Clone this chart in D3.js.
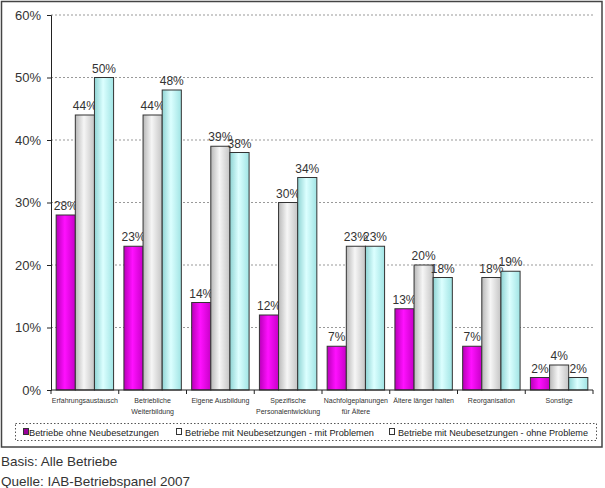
<!DOCTYPE html>
<html><head><meta charset="utf-8">
<script src="https://cdn.jsdelivr.net/npm/d3@7"></script>
<style>body{margin:0;background:#fff}svg{display:block;font-family:"Liberation Sans",Arial,sans-serif}</style>
</head><body><svg id="c" width="605" height="488"></svg>
<script>
const categories = [["Erfahrungsaustausch"],["Betriebliche","Weiterbildung"],["Eigene Ausbildung"],["Spezifische","Personalentwicklung"],["Nachfolgeplanungen","für Ältere"],["Ältere länger halten"],["Reorganisation"],["Sonstige"]];
const seriesNames = ["Betriebe ohne Neubesetzungen","Betriebe mit Neubesetzungen - mit Problemen","Betriebe mit Neubesetzungen - ohne Probleme"];
const ohne = [28,23,14,12,7,13,7,2];
const mitProblemen = [44,44,39,30,23,20,18,4];
const ohneProbleme = [50,48,38,34,23,18,19,2];
const yTicks = [0,10,20,30,40,50,60];

const series = [ohne, mitProblemen, ohneProbleme];
const svg = d3.select("#c");
const defs = svg.append("defs");
const grads = [["#b800b8","#ff10ff","#c800c8"],["#b8b8b8","#f6f6f6","#c4c4c4"],["#8fd4d4","#dcffff","#a0e4e4"]];
grads.forEach((g,i)=>{
  const lg = defs.append("linearGradient").attr("id","g"+i).attr("x1","0").attr("x2","1").attr("y1","0").attr("y2","0");
  lg.append("stop").attr("offset","0%").attr("stop-color",g[0]);
  lg.append("stop").attr("offset","45%").attr("stop-color",g[1]);
  lg.append("stop").attr("offset","100%").attr("stop-color",g[2]);
});
const legendFill = ["#990099","#ffffff","#ffffff"];

// outer frame
svg.append("rect").attr("x",1.5).attr("y",1.5).attr("width",600.5).attr("height",445.5).attr("fill","none").attr("stroke","#444").attr("stroke-width",1.5);

const x0 = 51, x1 = 593, yTop = 15, yBot = 390;
const y = d3.scaleLinear().domain([0,60]).range([yBot,yTop]);
const xb = d3.scaleBand().domain(d3.range(categories.length)).range([x0,x1]).paddingInner(0).paddingOuter(0);
const xs = d3.scaleBand().domain(d3.range(3)).range([0,xb.bandwidth()]).paddingInner(0).paddingOuter(0.27);

// gridlines
svg.append("g").selectAll("line").data(yTicks.filter(d=>d>0)).join("line")
  .attr("x1",x0).attr("x2",x1).attr("y1",d=>y(d)).attr("y2",d=>y(d))
  .attr("stroke","#999").attr("stroke-dasharray","2,2").attr("stroke-width",1);

// y axis
const ya = svg.append("g").attr("transform",`translate(${x0},0)`)
  .call(d3.axisLeft(y).tickValues(yTicks).tickFormat(d=>d+"%").tickSize(4).tickPadding(6));
ya.select(".domain").attr("stroke","#222");
ya.selectAll(".tick line").attr("stroke","#222");
ya.selectAll("text").attr("font-size",13).attr("fill","#333").attr("font-family","Liberation Sans, Arial, sans-serif");

// bars
const groups = svg.append("g").selectAll("g").data(categories).join("g")
  .attr("transform",(d,i)=>`translate(${xb(i)},0)`);
series.forEach((s,si)=>{
  groups.append("rect")
    .attr("x",xs(si)).attr("width",xs.bandwidth())
    .attr("y",(d,i)=>y(s[i])).attr("height",(d,i)=>yBot-y(s[i]))
    .attr("fill",`url(#g${si})`).attr("stroke","#333").attr("stroke-width",1);
  groups.append("text")
    .attr("x",xs(si)+xs.bandwidth()/2).attr("y",(d,i)=>y(s[i])-5)
    .attr("text-anchor","middle").attr("font-size",12).attr("fill","#333")
    .text((d,i)=>s[i]+"%");
});

// x axis
const xa = svg.append("g").attr("transform",`translate(0,${yBot})`);
xa.append("line").attr("x1",x0).attr("x2",x1).attr("stroke","#222");
xa.selectAll("line.t").data(d3.range(categories.length+1)).join("line").attr("class","t")
  .attr("x1",i=>x0+i*xb.bandwidth()).attr("x2",i=>x0+i*xb.bandwidth()).attr("y1",0).attr("y2",4).attr("stroke","#222");
const xl = xa.selectAll("text").data(categories).join("text")
  .attr("x",(d,i)=>xb(i)+xb.bandwidth()/2).attr("y",13)
  .attr("text-anchor","middle").attr("font-size",7).attr("fill","#333");
xl.each(function(d){
  d3.select(this).selectAll("tspan").data(d).join("tspan")
    .attr("x",d3.select(this).attr("x")).attr("dy",(t,j)=>j?11:0).text(t=>t);
});

// legend
svg.append("rect").attr("x",15.5).attr("y",423.5).attr("width",581).attr("height",17)
  .attr("fill","none").attr("stroke","#555").attr("stroke-dasharray","1.5,2");
const lx = [23,176,389];
const lw = [130,189,190];
const lg = svg.append("g").selectAll("g").data(seriesNames).join("g")
  .attr("transform",(d,i)=>`translate(${lx[i]},432)`);
lg.append("rect").attr("x",0.5).attr("y",-3.5).attr("width",5).attr("height",6)
  .attr("fill",(d,i)=>legendFill[i]).attr("stroke","#333");
lg.append("text").attr("x",(d,i)=>i===0?6:9).attr("y",4).attr("font-size",9.5).attr("fill","#222")
  .attr("textLength",(d,i)=>lw[i]).attr("lengthAdjust","spacingAndGlyphs").text(d=>d);

// footer
svg.append("text").attr("x",1).attr("y",466).attr("font-size",13.5).attr("fill","#333").text("Basis: Alle Betriebe");
svg.append("text").attr("x",1).attr("y",486).attr("font-size",13.5).attr("fill","#333").text("Quelle: IAB-Betriebspanel 2007");
</script></body></html>
